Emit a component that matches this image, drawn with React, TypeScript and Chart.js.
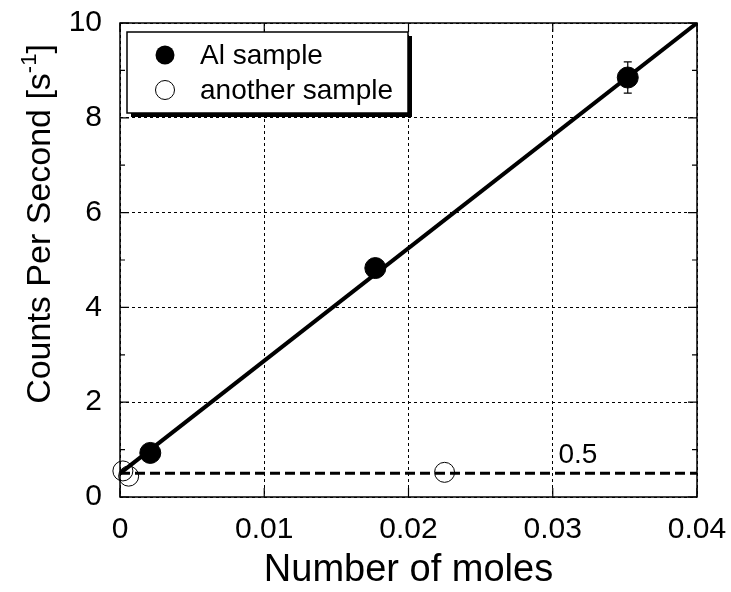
import React, { useEffect, useRef } from "react";
import { Chart, registerables } from "chart.js";
Chart.register(...registerables);

// ---- data ----
const alX = [0.0021, 0.0177, 0.0352];
const alY = [0.93, 4.83, 8.85];
const alErr = [0.08, 0.15, 0.33];
const otherX = [0.0002, 0.0006, 0.0225];
const otherY = [0.55, 0.44, 0.52];
const fitX = [0, 0.04];
const fitY = [0.5, 10];
const baseX = [0, 0.04];
const baseY = [0.5, 0.5];
const xTicks = [0, 0.01, 0.02, 0.03, 0.04];
const yTicks = [0, 2, 4, 6, 8, 10];
const yMinor = [1, 3, 5, 7, 9];
const seriesNames = ["Al sample", "another sample"];
const xTitle = "Number of moles";
const yTitle = "Counts Per Second [s";
const ySup = "-1";
const yTitleEnd = "]";
const baseLabel = "0.5";
const baseLabelX = 0.0304;
const baseLabelY = 0.72;

const FONT = '"Liberation Sans", Arial, sans-serif';

const decor = {
  id: "decor",
  afterDatasetsDraw(chart: any) {
    const { ctx, chartArea, scales } = chart;
    const { left, right, top, bottom } = chartArea;
    const x = scales.x;
    const y = scales.y;
    ctx.save();
    // error bars
    ctx.strokeStyle = "#000";
    ctx.lineWidth = 1.2;
    alX.forEach((xv, i) => {
      const px = x.getPixelForValue(xv);
      const y1 = y.getPixelForValue(alY[i] - alErr[i]);
      const y2 = y.getPixelForValue(alY[i] + alErr[i]);
      ctx.beginPath();
      ctx.moveTo(px, y1);
      ctx.lineTo(px, y2);
      ctx.moveTo(px - 4, y1);
      ctx.lineTo(px + 4, y1);
      ctx.moveTo(px - 4, y2);
      ctx.lineTo(px + 4, y2);
      ctx.stroke();
    });
    // frame
    ctx.setLineDash([]);
    ctx.lineWidth = 1.5;
    ctx.strokeRect(left, top, right - left, bottom - top);
    // inward tick marks
    ctx.lineWidth = 1.2;
    ctx.beginPath();
    xTicks.forEach((v) => {
      const px = x.getPixelForValue(v);
      ctx.moveTo(px, bottom);
      ctx.lineTo(px, bottom - 9);
      ctx.moveTo(px, top);
      ctx.lineTo(px, top + 9);
    });
    yTicks.forEach((v) => {
      const py = y.getPixelForValue(v);
      ctx.moveTo(left, py);
      ctx.lineTo(left + 9, py);
      ctx.moveTo(right, py);
      ctx.lineTo(right - 9, py);
    });
    yMinor.forEach((v) => {
      const py = y.getPixelForValue(v);
      ctx.moveTo(left, py);
      ctx.lineTo(left + 5, py);
      ctx.moveTo(right, py);
      ctx.lineTo(right - 5, py);
    });
    ctx.stroke();
    // baseline label
    ctx.fillStyle = "#000";
    ctx.font = `28px ${FONT}`;
    ctx.textAlign = "left";
    ctx.textBaseline = "alphabetic";
    ctx.fillText(baseLabel, x.getPixelForValue(baseLabelX), y.getPixelForValue(baseLabelY));
    ctx.restore();
  },
  afterDraw(chart: any) {
    const { ctx, chartArea } = chart;
    const { left, right, top } = chartArea;
    ctx.save();
    // legend
    const bx = left + 7;
    const by = top + 9;
    const bw = 281;
    const bh = 81;
    ctx.fillStyle = "#000";
    ctx.fillRect(bx + 4, by + 4, bw, bh);
    ctx.fillStyle = "#fff";
    ctx.fillRect(bx, by, bw, bh);
    ctx.strokeStyle = "#000";
    ctx.lineWidth = 1.5;
    ctx.strokeRect(bx, by, bw, bh);
    const rows = [by + 23, by + 58];
    ctx.beginPath();
    ctx.arc(bx + 38, rows[0], 9.5, 0, Math.PI * 2);
    ctx.fillStyle = "#000";
    ctx.fill();
    ctx.beginPath();
    ctx.arc(bx + 38, rows[1], 9.5, 0, Math.PI * 2);
    ctx.lineWidth = 1;
    ctx.stroke();
    ctx.font = `28px ${FONT}`;
    ctx.textAlign = "left";
    ctx.textBaseline = "middle";
    ctx.fillStyle = "#000";
    ctx.fillText(seriesNames[0], bx + 73, rows[0] + 1);
    ctx.fillText(seriesNames[1], bx + 73, rows[1] + 1);

    // x title
    ctx.font = `38px ${FONT}`;
    ctx.textAlign = "center";
    ctx.textBaseline = "alphabetic";
    ctx.fillText(xTitle, (left + right) / 2, 581);

    // y title (rotated with superscript)
    const mainFont = `34px ${FONT}`;
    const supFont = `22px ${FONT}`;
    ctx.font = mainFont;
    const w1 = ctx.measureText(yTitle).width;
    const w3 = ctx.measureText(yTitleEnd).width;
    ctx.font = supFont;
    const w2 = ctx.measureText(ySup).width;
    const total = w1 + w2 + w3;
    ctx.translate(50, 224);
    ctx.rotate(-Math.PI / 2);
    ctx.textAlign = "left";
    ctx.font = mainFont;
    ctx.fillText(yTitle, -total / 2, 0);
    ctx.font = supFont;
    ctx.fillText(ySup, -total / 2 + w1, -14);
    ctx.font = mainFont;
    ctx.fillText(yTitleEnd, -total / 2 + w1 + w2, 0);
    ctx.restore();
  },
};

export default function App() {
  const ref = useRef<HTMLCanvasElement | null>(null);
  useEffect(() => {
    if (!ref.current) return;
    const chart = new Chart(ref.current, {
      type: "scatter",
      data: {
        datasets: [
          {
            label: seriesNames[0],
            data: alX.map((v, i) => ({ x: v, y: alY[i] })),
            pointRadius: 10.5,
            pointHoverRadius: 10.5,
            backgroundColor: "#000",
            borderColor: "#000",
            borderWidth: 1,
            showLine: false,
            clip: false,
          } as any,
          {
            label: seriesNames[1],
            data: otherX.map((v, i) => ({ x: v, y: otherY[i] })),
            pointRadius: 10,
            pointHoverRadius: 10,
            backgroundColor: "rgba(0,0,0,0)",
            borderColor: "#000",
            borderWidth: 1,
            showLine: false,
            clip: false,
          } as any,
          {
            label: "fit",
            data: fitX.map((v, i) => ({ x: v, y: fitY[i] })),
            showLine: true,
            pointRadius: 0,
            borderColor: "#000",
            borderWidth: 4,
            tension: 0,
            fill: false,
          } as any,
          {
            label: "base",
            data: baseX.map((v, i) => ({ x: v, y: baseY[i] })),
            showLine: true,
            pointRadius: 0,
            borderColor: "#000",
            borderWidth: 3,
            borderDash: [10, 5],
            tension: 0,
            fill: false,
          } as any,
        ],
      },
      options: {
        responsive: false,
        animation: false,
        devicePixelRatio: 1,
        layout: { padding: { top: 23, right: 34, left: 0, bottom: 0 } },
        plugins: { legend: { display: false }, tooltip: { enabled: false } },
        scales: {
          x: {
            type: "linear",
            min: 0,
            max: 0.04,
            afterBuildTicks: (s: any) => {
              s.ticks = xTicks.map((v) => ({ value: v }));
            },
            afterFit: (s: any) => {
              s.height = 95;
              s.paddingLeft = 0;
              s.paddingRight = 0;
            },
            grid: { color: "#000", lineWidth: 1, drawTicks: false },
            border: { display: false, dash: [3, 3] },
            ticks: {
              color: "#000",
              font: { family: FONT, size: 30 },
              padding: 15,
              maxRotation: 0,
              callback: (v: any) => String(v),
            },
          },
          y: {
            type: "linear",
            min: 0,
            max: 10,
            afterBuildTicks: (s: any) => {
              s.ticks = yTicks.map((v) => ({ value: v }));
            },
            afterFit: (s: any) => {
              s.width = 120;
              s.paddingTop = 0;
              s.paddingBottom = 0;
            },
            grid: { color: "#000", lineWidth: 1, drawTicks: false },
            border: { display: false, dash: [3, 3] },
            ticks: {
              color: "#000",
              font: { family: FONT, size: 30 },
              padding: 18,
              callback: (v: any) => String(v),
            },
          },
        },
      },
      plugins: [decor],
    } as any);
    return () => chart.destroy();
  }, []);
  return (
    <div style={{ position: "absolute", left: 0, top: 0, width: 731, height: 592 }}>
      <canvas ref={ref} width={731} height={592} style={{ display: "block" }} />
    </div>
  );
}
